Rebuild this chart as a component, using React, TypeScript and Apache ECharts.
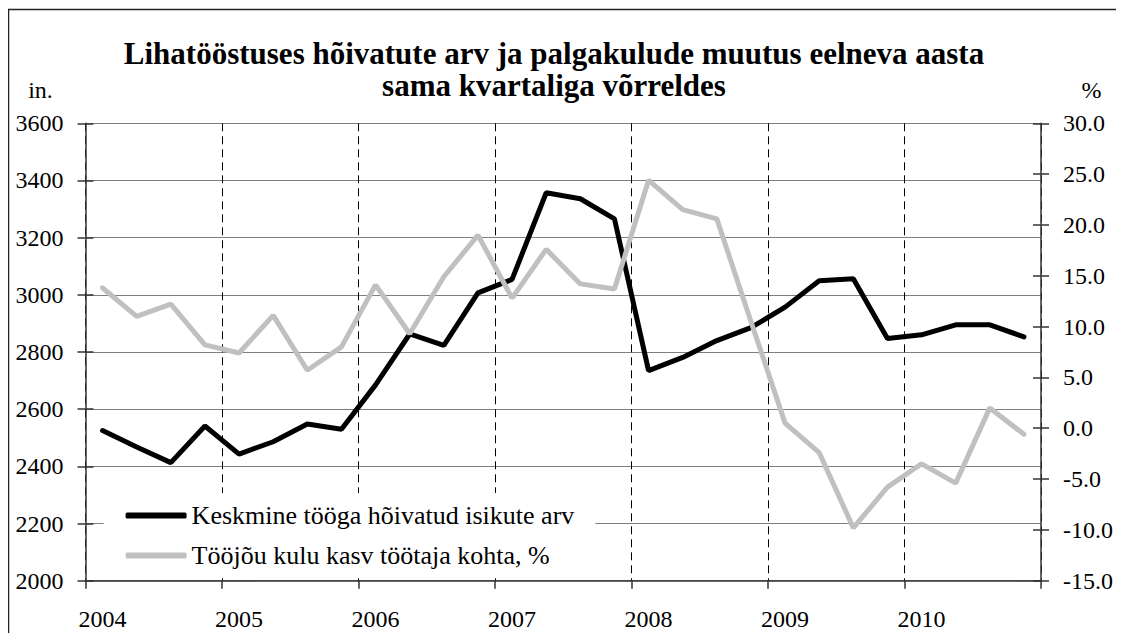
import React, { useEffect, useRef } from "react";
import * as echarts from "echarts";

const quarters = [
  "2004 I", "2004 II", "2004 III", "2004 IV",
  "2005 I", "2005 II", "2005 III", "2005 IV",
  "2006 I", "2006 II", "2006 III", "2006 IV",
  "2007 I", "2007 II", "2007 III", "2007 IV",
  "2008 I", "2008 II", "2008 III", "2008 IV",
  "2009 I", "2009 II", "2009 III", "2009 IV",
  "2010 I", "2010 II", "2010 III", "2010 IV",
];
const yearLabels = ["2004", "2005", "2006", "2007", "2008", "2009", "2010"];

const employment = [
  2525, 2468, 2413, 2541, 2443, 2486, 2548, 2530,
  2685, 2863, 2823, 3007, 3054, 3357, 3336, 3266,
  2735, 2781, 2840, 2885, 2957, 3049, 3056, 2847,
  2860, 2895, 2895, 2853,
];
const laborCost = [
  13.8, 11.0, 12.2, 8.2, 7.4, 11.1, 5.7, 8.0,
  14.1, 9.3, 14.9, 19.0, 12.8, 17.6, 14.2, 13.7,
  24.4, 21.5, 20.6, 10.5, 0.5, -2.4, -9.8, -5.8,
  -3.5, -5.4, 2.0, -0.6,
];

const seriesNames = [
  "Keskmine tööga hõivatud isikute arv",
  "Tööjõu kulu kasv töötaja kohta, %",
];
const titleLines = [
  "Lihatööstuses hõivatute arv ja palgakulude muutus eelneva aasta",
  "sama kvartaliga võrreldes",
];
const leftUnit = "in.";
const rightUnit = "%";

const FONT = '"Liberation Serif", "Times New Roman", serif';
const AXIS_COLOR = "#333";

export default function App() {
  const ref = useRef<HTMLDivElement>(null);
  useEffect(() => {
    if (!ref.current) return;
    const chart = echarts.init(ref.current, undefined, { renderer: "svg" });
    const labelStyle = { fontSize: 24, fontFamily: FONT, color: "#000" };
    chart.setOption({
      animation: false,
      grid: { left: 77.5, right: 70, top: 115.3, bottom: 52.3 },
      legend: {
        data: seriesNames,
        orient: "vertical",
        left: 95.6,
        top: 485,
        padding: [9.5, 21, 8, 22],
        itemGap: 14,
        itemWidth: 61,
        itemHeight: 6,
        icon: "roundRect",
        backgroundColor: "#fff",
        selectedMode: false,
        textStyle: { fontSize: 26, fontFamily: FONT, color: "#000", lineHeight: 26 },
      },
      xAxis: [
        {
          type: "category",
          data: quarters,
          boundaryGap: true,
          axisLine: { onZero: false, lineStyle: { color: AXIS_COLOR, width: 1.5 } },
          axisTick: { show: true, interval: 3, length: 8, lineStyle: { color: AXIS_COLOR, width: 1.5 } },
          axisLabel: {
            ...labelStyle,
            interval: 3,
            margin: 26,
            formatter: (_v: string, i: number) => (i % 4 === 0 ? yearLabels[i / 4] : ""),
          },
          splitLine: { show: true, interval: 3, lineStyle: { type: [8, 5], color: "#000", width: 1 } },
        },
      ],
      yAxis: [
        {
          type: "value",
          min: 2000,
          max: 3600,
          interval: 200,
          position: "left",
          axisLine: { show: true, onZero: false, lineStyle: { color: AXIS_COLOR, width: 1.5 } },
          axisTick: { show: true, length: 8, lineStyle: { color: AXIS_COLOR, width: 1.5 } },
          axisLabel: { ...labelStyle, margin: 22, formatter: (v: number) => String(v) },
          splitLine: { show: true, lineStyle: { color: "#7f7f7f", width: 1 } },
        },
        {
          type: "value",
          min: -15,
          max: 30,
          interval: 5,
          position: "right",
          axisLine: { show: true, onZero: false, lineStyle: { color: AXIS_COLOR, width: 1.5 } },
          axisTick: { show: true, length: 8, lineStyle: { color: AXIS_COLOR, width: 1.5 } },
          axisLabel: { ...labelStyle, margin: 22, formatter: (v: number) => v.toFixed(1) },
          splitLine: { show: false },
        },
        {
          type: "value",
          min: 2000,
          max: 3600,
          interval: 200,
          position: "left",
          axisLine: { show: false, onZero: false },
          axisTick: { show: true, inside: true, length: 8, lineStyle: { color: AXIS_COLOR, width: 1.5 } },
          axisLabel: { show: false },
          splitLine: { show: false },
        },
        {
          type: "value",
          min: -15,
          max: 30,
          interval: 5,
          position: "right",
          axisLine: { show: false, onZero: false },
          axisTick: { show: true, inside: true, length: 8, lineStyle: { color: AXIS_COLOR, width: 1.5 } },
          axisLabel: { show: false },
          splitLine: { show: false },
        },
      ],
      series: [
        {
          name: seriesNames[0],
          type: "line",
          yAxisIndex: 0,
          data: employment,
          symbol: "none",
          itemStyle: { color: "#000" },
          lineStyle: { color: "#000", width: 5, cap: "round" },
          emphasis: { disabled: true },
          z: 2,
        },
        {
          name: seriesNames[1],
          type: "line",
          yAxisIndex: 1,
          data: laborCost,
          symbol: "none",
          itemStyle: { color: "#c0c0c0" },
          lineStyle: { color: "#c0c0c0", width: 5, cap: "round" },
          emphasis: { disabled: true },
          z: 3,
        },
      ],
      graphic: [
        {
          type: "rect",
          shape: { x: 0.5, y: 1.5, width: 1300, height: 800 },
          style: { fill: "none", stroke: "#222", lineWidth: 1.5 },
          silent: true,
        },
        {
          type: "text",
          x: 546,
          y: 45,
          style: {
            text: titleLines[0],
            fontSize: 31,
            fontWeight: "bold",
            fontFamily: FONT,
            fill: "#000",
            align: "center",
            verticalAlign: "middle",
          },
        },
        {
          type: "text",
          x: 546,
          y: 77,
          style: {
            text: titleLines[1],
            fontSize: 31,
            fontWeight: "bold",
            fontFamily: FONT,
            fill: "#000",
            align: "center",
            verticalAlign: "middle",
          },
        },
        {
          type: "text",
          x: 32.5,
          y: 81.5,
          style: {
            text: leftUnit,
            fontSize: 24,
            fontFamily: FONT,
            fill: "#000",
            align: "center",
            verticalAlign: "middle",
          },
        },
        {
          type: "text",
          x: 1083.5,
          y: 81.5,
          style: {
            text: rightUnit,
            fontSize: 24,
            fontFamily: FONT,
            fill: "#000",
            align: "center",
            verticalAlign: "middle",
          },
        },
      ],
    });
    return () => chart.dispose();
  }, []);
  return <div ref={ref} style={{ width: 1108, height: 625 }} />;
}
